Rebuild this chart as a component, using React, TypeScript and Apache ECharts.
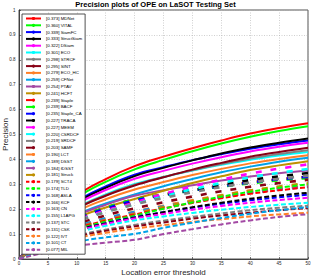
import React, { useEffect, useRef } from "react";
import * as echarts from "echarts";

const thresholds = [0, 5, 10, 15, 20, 25, 30, 35, 40, 45, 50];

const trackerNames = [
  "MDNet", "VITAL", "SiamFC", "StructSiam", "DSiam", "ECO", "STRCF", "SINT", "ECO_HC", "CFNet", "PTAV", "HCFT",
  "Staple", "BACF", "Staple_CA", "TRACA", "MEEM", "CSRDCF", "SRDCF", "SAMF", "LCT", "DSST", "fDSST", "Struck",
  "SCT4", "TLD", "ASLA", "KCF", "CN", "L1APG", "STC", "CSK", "IVT", "CT", "MIL",
];

const trackerScores = [
  0.373, 0.36, 0.339, 0.333, 0.322, 0.301, 0.298, 0.295, 0.279, 0.259, 0.254, 0.241,
  0.239, 0.239, 0.235, 0.227, 0.227, 0.22, 0.219, 0.203, 0.19, 0.189, 0.184, 0.181,
  0.179, 0.174, 0.168, 0.166, 0.163, 0.155, 0.137, 0.131, 0.122, 0.101, 0.077,
];

const lineColors = [
  "#FF0000", "#00FF00", "#0000FF", "#000000", "#FF00FF", "#00FFFF",
  "#808080", "#880015", "#FF7F27", "#00A2E8", "#A349A4", "#BF9000",
];

// precision at thresholds 0..50 (step 5)
const solidCurves = [
  [0, 0.142, 0.254, 0.321, 0.373, 0.411, 0.445, 0.476, 0.504, 0.526, 0.545],
  [0, 0.137, 0.245, 0.31, 0.36, 0.398, 0.433, 0.464, 0.491, 0.514, 0.533],
  [0, 0.129, 0.231, 0.292, 0.339, 0.369, 0.397, 0.421, 0.443, 0.461, 0.476],
  [0, 0.127, 0.226, 0.286, 0.333, 0.366, 0.396, 0.424, 0.448, 0.467, 0.484],
  [0, 0.122, 0.219, 0.277, 0.322, 0.354, 0.383, 0.409, 0.432, 0.451, 0.467],
  [0, 0.114, 0.205, 0.259, 0.301, 0.329, 0.355, 0.378, 0.399, 0.416, 0.43],
  [0, 0.113, 0.203, 0.256, 0.298, 0.329, 0.356, 0.381, 0.404, 0.422, 0.437],
  [0, 0.112, 0.201, 0.254, 0.295, 0.328, 0.359, 0.386, 0.411, 0.43, 0.447],
  [0, 0.106, 0.19, 0.24, 0.279, 0.309, 0.337, 0.362, 0.384, 0.402, 0.417],
  [0, 0.098, 0.176, 0.223, 0.259, 0.292, 0.321, 0.348, 0.371, 0.391, 0.407],
  [0, 0.097, 0.173, 0.218, 0.254, 0.276, 0.296, 0.315, 0.331, 0.344, 0.355],
  [0, 0.092, 0.164, 0.207, 0.241, 0.274, 0.305, 0.332, 0.357, 0.376, 0.393],
];

const dottedCurves = [
  [0, 0.091, 0.163, 0.206, 0.239, 0.259, 0.277, 0.294, 0.308, 0.32, 0.33],
  [0, 0.091, 0.163, 0.206, 0.239, 0.258, 0.275, 0.291, 0.304, 0.316, 0.325],
  [0, 0.089, 0.16, 0.202, 0.235, 0.256, 0.275, 0.292, 0.307, 0.32, 0.33],
  [0, 0.086, 0.154, 0.195, 0.227, 0.253, 0.277, 0.298, 0.317, 0.332, 0.345],
  [0, 0.086, 0.154, 0.195, 0.227, 0.261, 0.291, 0.319, 0.343, 0.363, 0.38],
  [0, 0.084, 0.15, 0.189, 0.22, 0.251, 0.28, 0.305, 0.328, 0.346, 0.362],
  [0, 0.083, 0.149, 0.188, 0.219, 0.245, 0.268, 0.289, 0.307, 0.322, 0.335],
  [0, 0.077, 0.138, 0.175, 0.203, 0.228, 0.251, 0.272, 0.29, 0.305, 0.318],
  [0, 0.072, 0.129, 0.163, 0.19, 0.214, 0.236, 0.256, 0.274, 0.288, 0.3],
  [0, 0.072, 0.129, 0.163, 0.189, 0.211, 0.231, 0.25, 0.266, 0.279, 0.29],
  [0, 0.07, 0.125, 0.158, 0.184, 0.208, 0.229, 0.249, 0.266, 0.28, 0.292],
  [0, 0.069, 0.123, 0.156, 0.181, 0.208, 0.233, 0.255, 0.275, 0.291, 0.305],
];

const dashDotCurves = [
  [0, 0.068, 0.122, 0.154, 0.179, 0.203, 0.225, 0.244, 0.262, 0.276, 0.288],
  [0, 0.066, 0.118, 0.15, 0.174, 0.202, 0.227, 0.25, 0.27, 0.286, 0.3],
  [0, 0.064, 0.114, 0.144, 0.168, 0.188, 0.206, 0.222, 0.236, 0.248, 0.258],
  [0, 0.063, 0.113, 0.143, 0.166, 0.188, 0.208, 0.226, 0.242, 0.255, 0.266],
  [0, 0.062, 0.111, 0.14, 0.163, 0.181, 0.198, 0.213, 0.226, 0.237, 0.246],
  [0, 0.059, 0.105, 0.133, 0.155, 0.171, 0.185, 0.198, 0.209, 0.218, 0.226],
  [0, 0.052, 0.093, 0.118, 0.137, 0.154, 0.169, 0.183, 0.196, 0.206, 0.214],
  [0, 0.05, 0.089, 0.113, 0.131, 0.147, 0.162, 0.175, 0.186, 0.196, 0.204],
  [0, 0.046, 0.083, 0.105, 0.122, 0.136, 0.149, 0.16, 0.171, 0.179, 0.186],
  [0, 0.038, 0.069, 0.087, 0.101, 0.125, 0.146, 0.165, 0.182, 0.196, 0.208],
  [0, 0.029, 0.052, 0.066, 0.077, 0.1, 0.12, 0.139, 0.155, 0.169, 0.18],
];

const FONT = "Liberation Sans, Arial, sans-serif";

export default function App() {
  const ref = useRef<HTMLDivElement>(null);

  useEffect(() => {
    const chart = echarts.init(ref.current!, null, { renderer: "svg" });
    const curves = [...solidCurves, ...dottedCurves, ...dashDotCurves];
    const label = (i: number) => `[${trackerScores[i].toFixed(3)}] ${trackerNames[i]}`;
    const seriesStyle = (i: number) =>
      i < 12
        ? { type: "solid" as any, width: 2 }
        : i < 24
        ? { type: [6, 9] as any, width: 2.6 }
        : { type: [5, 2.5] as any, width: 2 };
    const legendStyle = (i: number) =>
      i < 12
        ? { type: "solid" as any, width: 2 }
        : i < 24
        ? { type: [7, 9] as any, width: 2 }
        : { type: [3.4, 2] as any, width: 2 };

    const series = curves.map((vals, i) => ({
      name: label(i),
      type: "line",
      data: thresholds.map((t, j) => [t, vals[j]]),
      symbol: "none",
      showSymbol: false,
      smooth: 0.4,
      lineStyle: { color: lineColors[i % 12], ...seriesStyle(i) },
      itemStyle: { color: lineColors[i % 12] },
      emphasis: { disabled: true },
    }));

    chart.setOption({
      animation: false,
      title: {
        text: "Precision plots of OPE on LaSOT Testing Set",
        left: "center",
        top: 0,
        padding: 0,
        textStyle: { fontFamily: FONT, fontSize: 7.5, fontWeight: "bold", color: "#000", lineHeight: 8 },
      },
      grid: {
        left: 19,
        right: 3,
        top: 10,
        bottom: 19,
        containLabel: false,
        outerBoundsMode: "none",
        show: true,
        borderColor: "#262626",
        borderWidth: 0.8,
        backgroundColor: "#fff",
      },
      legend: {
        orient: "vertical",
        left: 22,
        top: 14,
        padding: [2, 3, 2, 3],
        backgroundColor: "#fff",
        borderColor: "#262626",
        borderWidth: 0.8,
        itemWidth: 15,
        itemHeight: 4,
        itemGap: 1.8,
        textStyle: { fontFamily: FONT, fontSize: 4.4, lineHeight: 5, color: "#000", padding: [0, 0, 0, 0] },
        data: curves.map((_, i) => ({
          name: label(i),
          lineStyle: { color: lineColors[i % 12], ...legendStyle(i) },
        })),
        selectedMode: false,
      },
      xAxis: {
        type: "value",
        min: 0,
        max: 50,
        interval: 5,
        name: "Location error threshold",
        nameLocation: "middle",
        nameGap: 9,
        nameMoveOverlap: false,
        nameTextStyle: { fontFamily: FONT, fontSize: 8, lineHeight: 9, color: "#262626" },
        axisLine: { onZero: false, lineStyle: { color: "#262626", width: 0.8 } },
        axisTick: { inside: true, length: 2, lineStyle: { color: "#262626", width: 0.6 } },
        axisLabel: { fontFamily: FONT, fontSize: 4.5, color: "#262626", margin: 1.5 },
        splitLine: { show: true, lineStyle: { color: "#b0b0b0", width: 0.6, type: [1, 1.5] } },
      },
      yAxis: {
        type: "value",
        min: 0,
        max: 1,
        interval: 0.1,
        name: "Precision",
        nameLocation: "middle",
        nameGap: 9,
        nameMoveOverlap: false,
        nameTextStyle: { fontFamily: FONT, fontSize: 8, lineHeight: 9, color: "#262626" },
        axisLine: { show: true, lineStyle: { color: "#262626", width: 0.8 } },
        axisTick: { show: true, inside: true, length: 2, lineStyle: { color: "#262626", width: 0.6 } },
        axisLabel: { fontFamily: FONT, fontSize: 4.5, color: "#262626", margin: 3.5 },
        splitLine: { show: true, lineStyle: { color: "#b0b0b0", width: 0.6, type: [1, 1.5] } },
      },
      series,
    } as any);

    return () => chart.dispose();
  }, []);

  return (
    <div
      ref={ref}
      style={{ position: "fixed", left: 0, top: 0, width: 311, height: 278, background: "#fff" }}
    />
  );
}
